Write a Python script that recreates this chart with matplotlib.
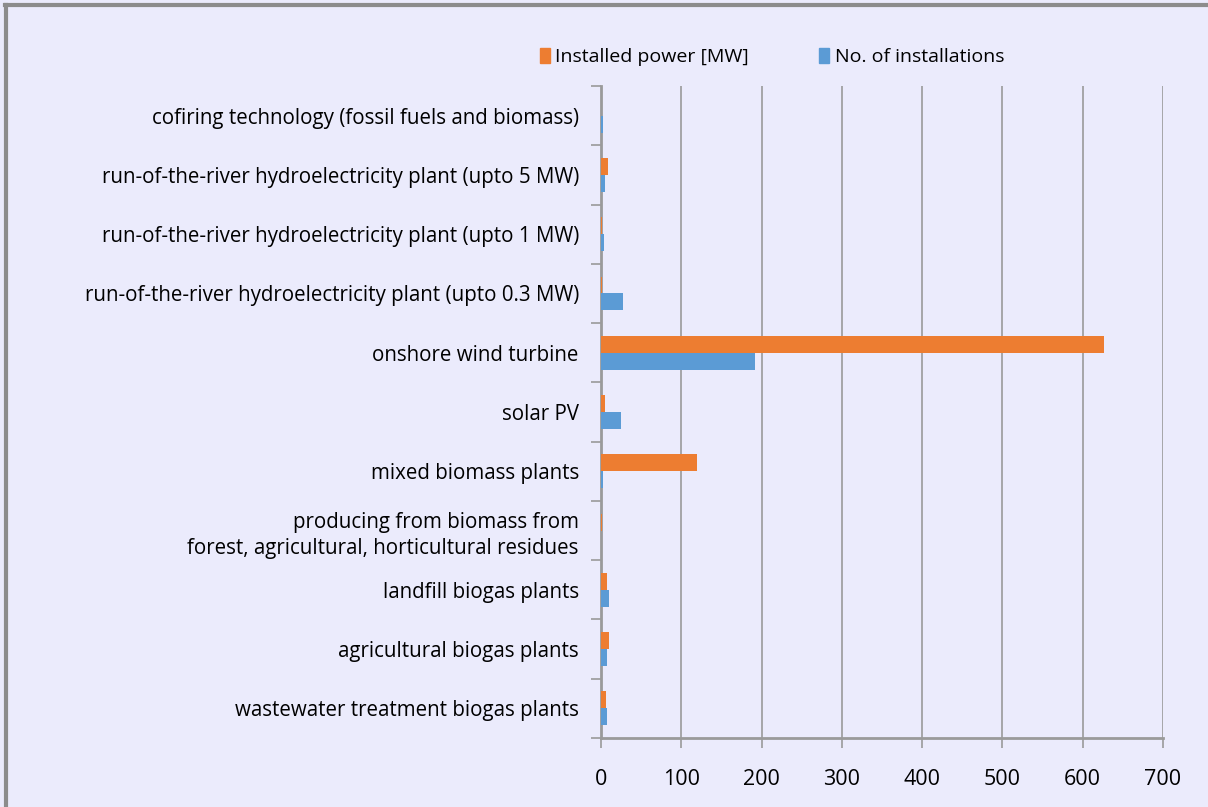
import matplotlib
matplotlib.use("Agg")
import matplotlib.pyplot as plt
import numpy as np
from matplotlib.lines import Line2D
from matplotlib.patches import Patch

# ---- data (bottom to top, as drawn) -----------------------------------------
categories = [
    "wastewater treatment biogas plants",
    "agricultural biogas plants",
    "landfill biogas plants",
    "producing from biomass from\nforest, agricultural, horticultural residues",
    "mixed biomass plants",
    "solar PV",
    "onshore wind turbine",
    "run-of-the-river hydroelectricity plant (upto 0.3 MW)",
    "run-of-the-river hydroelectricity plant (upto 1 MW)",
    "run-of-the-river hydroelectricity plant (upto 5 MW)",
    "cofiring technology (fossil fuels and biomass)",
]
installed_power = [6, 10, 7, 1.5, 119, 5, 626, 1.5, 1, 9, 0]
installations = [7, 8, 10, 0, 3, 25, 192, 27, 4, 5, 3]
xticks = [0, 100, 200, 300, 400, 500, 600, 700]

ORANGE = "#ED7D31"
BLUE = "#5B9BD5"
BG = "#EBEBFC"
GRID = "#9A9A9A"

plt.rcParams["font.family"] = ["Open Sans", "DejaVu Sans"]

fig = plt.figure(figsize=(12.08, 8.07), dpi=100, facecolor=BG)
ax = fig.add_axes([601 / 1208, 69 / 807, 562 / 1208, 652 / 807])
ax.set_facecolor(BG)

y = np.arange(len(categories))
h = 0.285
ax.barh(y + h / 2, installed_power, height=h, color=ORANGE, zorder=3)
ax.barh(y - h / 2, installations, height=h, color=BLUE, zorder=3)

ax.set_xlim(0, 700)
ax.set_ylim(-0.5, len(categories) - 0.5)
ax.set_xticks(xticks)
ax.set_xticklabels([str(t) for t in xticks], fontsize=15.5)
ax.set_yticks(y)
ax.set_yticklabels(categories, fontsize=14.8, linespacing=1.3)
ax.set_yticks(np.arange(len(categories) + 1) - 0.5, minor=True)
ax.tick_params(axis="y", which="major", length=0, pad=16)
ax.tick_params(axis="y", which="minor", length=7, color=GRID, width=1.2)
ax.tick_params(axis="x", length=7, color=GRID, width=1.2, pad=15)
ax.xaxis.grid(True, color=GRID, linewidth=1.2, zorder=0)

for side in ("top", "right"):
    ax.spines[side].set_visible(False)
for side in ("left", "bottom"):
    ax.spines[side].set_color(GRID)
    ax.spines[side].set_linewidth(2)

handles = [Patch(color=ORANGE, label="Installed power [MW]"),
           Patch(color=BLUE, label="No. of installations")]
fig.legend(handles=handles, loc="center", bbox_to_anchor=(772 / 1208, 1 - 57 / 807),
           ncol=2, frameon=False, fontsize=14, handlelength=0.5, handleheight=0.8,
           handletextpad=0.3, columnspacing=3.6, borderpad=0, borderaxespad=0)

# outer chart border (left and top visible)
fig.add_artist(Line2D([6 / 1208, 6 / 1208], [0, 1 - 5 / 807], transform=fig.transFigure,
                      color="#8C8C8C", linewidth=3))
fig.add_artist(Line2D([5 / 1208, 1], [1 - 5 / 807, 1 - 5 / 807], transform=fig.transFigure,
                      color="#8C8C8C", linewidth=3))

fig.savefig("out.png", dpi=100, facecolor=BG)
